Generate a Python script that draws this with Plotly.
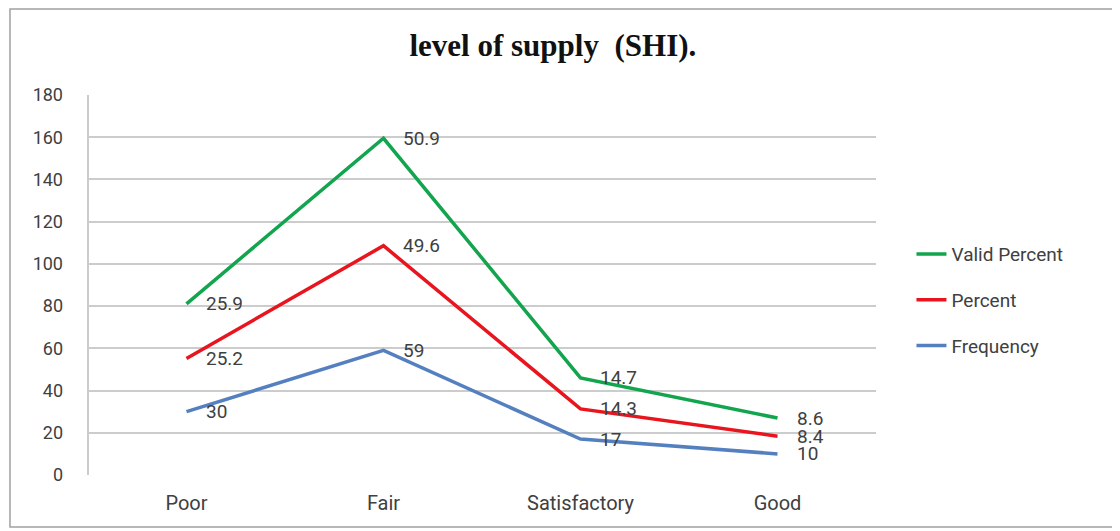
import numpy as np
import plotly.graph_objects as go

categories = ["Poor", "Fair", "Satisfactory", "Good"]
frequency = [30, 59, 17, 10]
percent = [25.2, 49.6, 14.3, 8.4]
valid_percent = [25.9, 50.9, 14.7, 8.6]
y_ticks = [0, 20, 40, 60, 80, 100, 120, 140, 160, 180]

series = [
    ("Frequency", frequency, "#5580c0", 3),
    ("Percent", percent, "#e8151f", 2),
    ("Valid Percent", valid_percent, "#12a54e", 1),
]

fig = go.Figure()
cum = np.zeros(len(categories))
annotations = []
for name, vals, color, rank in series:
    cum = cum + np.array(vals)
    fig.add_trace(go.Scatter(
        x=categories, y=cum.tolist(), name=name, mode="lines",
        line=dict(color=color, width=3.5), legendgroup=name, legendrank=rank,
        hoverinfo="skip",
    ))
    for c, y, v in zip(categories, cum, vals):
        annotations.append(dict(
            x=c, y=y, text=f"{v:g}", showarrow=False, xanchor="left",
            yanchor="middle", xshift=17,
            font=dict(family="Roboto", size=19, color="#404040"),
        ))

fig.update_layout(
    width=1112, height=523,
    margin=dict(l=80, r=244, t=87, b=56),
    paper_bgcolor="white", plot_bgcolor="white",
    title=dict(text="<b>level of supply  (SHI).</b>", x=0.49, xanchor="center",
               y=0.929, yanchor="middle",
               font=dict(family="Liberation Serif", size=31, color="#111111")),
    xaxis=dict(range=[-0.5, 3.5], showgrid=False, zeroline=False, showline=False,
               ticks="", tickfont=dict(family="Roboto", size=20, color="#404040"),
               ticklabelstandoff=14),
    yaxis=dict(range=[0, 180], tickvals=y_ticks, showgrid=True, gridcolor="#cccccc",
               gridwidth=2, zeroline=False, showline=False, ticks="",
               tickfont=dict(family="Roboto", size=18, color="#404040"),
               ticklabelstandoff=24),
    legend=dict(x=1.045, y=0.46, xanchor="left", yanchor="middle",
                traceorder="grouped", tracegroupgap=18,
                font=dict(family="Roboto", size=19, color="#404040"),
                bgcolor="rgba(0,0,0,0)"),
    annotations=annotations,
    shapes=[
        dict(type="rect", xref="paper", yref="paper", x0=-0.099, x1=1.303,
             y0=-0.137, y1=1.226, line=dict(color="#a0a0a0", width=1.5), layer="below"),
        dict(type="line", xref="paper", yref="paper", x0=0, x1=0, y0=0, y1=1,
             line=dict(color="#cccccc", width=2), layer="below"),
    ],
)

fig.write_html("out.html")
